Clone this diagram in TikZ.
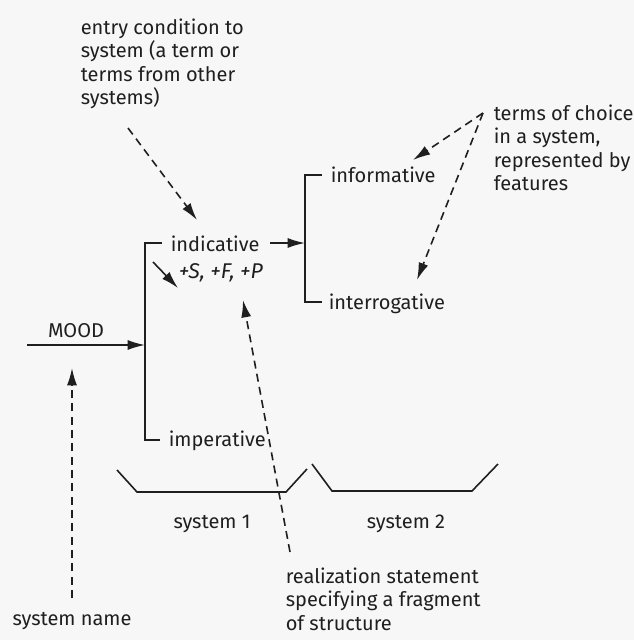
\documentclass[tikz,border=0pt]{standalone}
\usepackage{fontspec}
\setmainfont{Fira Sans}
\usetikzlibrary{positioning,arrows.meta}

\begin{document}
\begin{tikzpicture}[
  x=0.75pt, y=-0.75pt,
  font=\fontsize{15}{17.6}\selectfont, >={Latex[length=13pt,width=7.5pt]},
  line width=1.2pt, color=black!88,
  lbl/.style={inner sep=0pt,anchor=base west},
  note/.style={inner sep=0pt,anchor=north west,align=left},
  dsh/.style={->,dash pattern=on 6pt off 4pt}
]
\fill[black!3] (0,0) rectangle (634,640);
\useasboundingbox (0,0) rectangle (634,640);
% notes
\node[note] (entry) at (80,18) {entry condition to\\system (a term or\\terms from other\\systems)};
\node[note] (terms) at (493,104) {terms of choice\\in a system,\\represented by\\features};
\node[note] (realz) at (285,567) {realization statement\\specifying a fragment\\of structure};
\node[lbl,anchor=base] (sname) at (72,625) {system name};
% features
\node[lbl,anchor=base] (mood) at (76,337) {MOOD};
\node[lbl] (indic) at (170,251) {indicative};
\node[lbl] (imper) at (168,446) {imperative};
\node[lbl] (inform) at (330,182) {informative};
\node[lbl] (interr) at (328,309) {interrogative};
\node[lbl] (realst) at (178,278) {\fontsize{16}{18}\selectfont\itshape +S,\hspace{4pt}+F,\hspace{4pt}+P};
\node[lbl,anchor=base] (sys1) at (212,528) {system 1};
\node[lbl,anchor=base] (sys2) at (406,528) {system 2};
% system 1
\coordinate (min) at (27,345);
\coordinate (bar1) at (145,345);
\coordinate (b1top) at (145,243);
\coordinate (b1bot) at (145,440);
\draw[->] (min) -- (bar1);
\draw (162,243) -- (b1top) -- (b1bot) -- (160,440);
% system 2
\coordinate (b2mid) at (305,243);
\coordinate (b2top) at (305,175);
\coordinate (b2bot) at (305,302);
\draw[->] (270,243) -- (b2mid);
\draw (322,175) -- (b2top) -- (b2bot) -- (322,302);
% realization
\coordinate (rs0) at (153,262);
\coordinate (rs1) at (178,288);
\draw[->] (rs0) -- (rs1);
% braces
\draw (117,470) -- (137,492) -- (286,492) -- (307,469);
\draw (312,464) -- (332,491) -- (472,491) -- (498,464);
% dashed pointers
\coordinate (e0) at (128,128);
\coordinate (e1) at (197,220);
\draw[dsh] (e0) -- (e1);
\coordinate (t0) at (483,113);
\coordinate (t1) at (413,160);
\coordinate (t2) at (417,280);
\draw[dsh] (t0) -- (t1);
\draw[dsh] (t0) -- (t2);
\coordinate (r0) at (290,552);
\coordinate (r1) at (243,300);
\draw[dsh] (r0) -- (r1);
\coordinate (n0) at (72,598);
\coordinate (n1) at (72,368);
\draw[dsh] (n0) -- (n1);
\end{tikzpicture}
\end{document}
